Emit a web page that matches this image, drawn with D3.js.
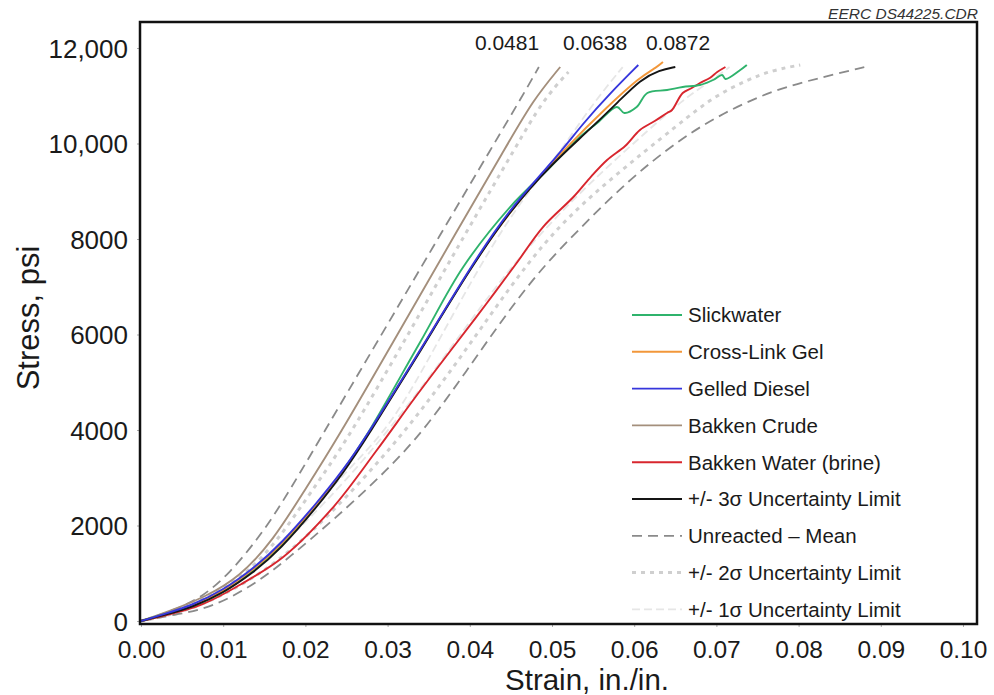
<!DOCTYPE html>
<html>
<head>
<meta charset="utf-8">
<script src="https://cdn.jsdelivr.net/npm/d3@7"></script>
<style>
  html, body { margin: 0; padding: 0; background: #fff; }
  svg { display: block; font-family: "Liberation Sans", Arial, sans-serif; }
</style>
</head>
<body>
<svg id="chart" width="994" height="695"></svg>
<script>
// ---------------- DATA ----------------
const strainTicks = [0, 0.01, 0.02, 0.03, 0.04, 0.05, 0.06, 0.07, 0.08, 0.09, 0.10];
const strainTickLabels = ["0.00","0.01","0.02","0.03","0.04","0.05","0.06","0.07","0.08","0.09","0.10"];
const stressTicks = [0, 2000, 4000, 6000, 8000, 10000, 12000];
const stressTickLabels = ["0","2000","4000","6000","8000","10,000","12,000"];

const annotationLabels = ["0.0481", "0.0638", "0.0872"];

// Slickwater
const slickwaterStrain = [0,0.0029,0.0063,0.0100,0.0136,0.0169,0.0214,0.0246,0.0273,0.0339,0.0392,0.0449,0.0498,0.0534,0.0555,0.0579,0.0588,0.0603,0.0616,0.0640,0.0659,0.0680,0.0696,0.0707,0.0711,0.0729,0.0737];
const slickwaterStress = [0,147,314,607,1047,1550,2450,3162,3853,5822,7414,8670,9508,10136,10429,10764,10639,10764,11058,11120,11183,11225,11330,11435,11351,11539,11644];
// Cross-Link Gel
const crossLinkStrain = [0,0.0029,0.0063,0.0100,0.0136,0.0169,0.0214,0.0246,0.0273,0.0343,0.0397,0.0449,0.0522,0.0567,0.0607,0.0628,0.0635];
const crossLinkStress = [0,140,315,625,1060,1560,2440,3140,3815,5750,7300,8610,10010,10764,11393,11602,11707];
// Gelled Diesel
const gelledDieselStrain = [0,0.0029,0.0063,0.0100,0.0136,0.0169,0.0214,0.0246,0.0273,0.0343,0.0397,0.0447,0.0501,0.0538,0.0571,0.0605];
const gelledDieselStress = [0,147,335,649,1089,1592,2471,3162,3832,5759,7309,8607,9613,10429,11058,11644];
// Bakken Crude
const bakkenCrudeStrain = [0,0.0035,0.0078,0.0120,0.0161,0.0197,0.0238,0.0313,0.0383,0.0444,0.0477,0.0510];
const bakkenCrudeStress = [0,209,503,921,1696,2681,3791,6031,8126,9927,10911,11602];
// Bakken Water (brine)
const bakkenWaterStrain = [0,0.0072,0.0120,0.0173,0.0234,0.0287,0.0333,0.0380,0.0419,0.0457,0.0489,0.0526,0.0546,0.0567,0.0589,0.0607,0.0625,0.0640,0.0646,0.0659,0.0670,0.0680,0.0692,0.0701,0.0711];
const bakkenWaterStress = [0,335,754,1340,2387,3581,4670,5738,6618,7497,8251,8880,9277,9654,9948,10283,10471,10639,10702,11058,11162,11267,11372,11497,11602];
// +/- 3 sigma (solid black)
const sigma3Strain = [0,0.0029,0.0063,0.0100,0.0136,0.0169,0.0214,0.0246,0.0273,0.0343,0.0397,0.0449,0.0501,0.0540,0.0583,0.0607,0.0631,0.0650];
const sigma3Stress = [0,126,293,586,1005,1487,2387,3099,3791,5738,7288,8607,9592,10199,10911,11330,11539,11602];
// Unreacted - Mean (dashed, lower and upper)
const meanLowStrain = [0,0.0041,0.0075,0.0108,0.0141,0.0169,0.0217,0.0293,0.0361,0.0430,0.0464,0.0484];
const meanLowStress = [0,230,503,1005,1696,2387,3791,6010,8000,10010,10995,11602];
const meanHighStrain = [0,0.0047,0.0088,0.0141,0.0181,0.0234,0.0291,0.0346,0.0416,0.0477,0.0532,0.0593,0.0656,0.0708,0.0769,0.0830,0.0881];
const meanHighStress = [0,147,293,796,1340,2115,3016,4000,5738,7204,8188,9236,10094,10639,11120,11393,11602];
// +/- 2 sigma (light dotted)
const sigma2LowStrain = [0,0.0038,0.0084,0.0127,0.0167,0.0206,0.0251,0.0326,0.0395,0.0456,0.0489,0.0520];
const sigma2LowStress = [0,188,503,963,1696,2681,3791,6031,8126,9927,10911,11497];
const sigma2HighStrain = [0,0.0066,0.0151,0.0225,0.0325,0.0409,0.0490,0.0569,0.0656,0.0696,0.0737,0.0769,0.0802];
const sigma2HighStress = [0,230,1005,2115,4000,6010,8000,9236,10429,10974,11330,11539,11644];
// +/- 1 sigma (very light)
const sigma1LowStrain = [0,0.0050,0.0092,0.0130,0.0168,0.0212,0.0256,0.0305,0.0360,0.0414,0.0462,0.0505,0.0548,0.0586];
const sigma1LowStress = [0,240,520,1000,1600,2400,3250,4100,5800,7500,8800,9700,10800,11600];
const sigma1HighStrain = [0,0.0070,0.0125,0.0180,0.0270,0.0360,0.0430,0.0495,0.0560,0.0612,0.0658,0.0692,0.0716];
const sigma1HighStress = [0,280,900,1700,3300,5300,7000,8300,9400,10200,10900,11300,11600];

const legendNames = ["Slickwater","Cross-Link Gel","Gelled Diesel","Bakken Crude","Bakken Water (brine)",
  "+/- 3\u03C3 Uncertainty Limit","Unreacted \u2013 Mean","+/- 2\u03C3 Uncertainty Limit","+/- 1\u03C3 Uncertainty Limit"];

// ---------------- STYLES ----------------
const styles = {
  slick:  {stroke:"#2fb36c", width:1.9, dash:null, curve:"raw"},
  cross:  {stroke:"#f2973a", width:1.9, dash:null, curve:"smooth"},
  gelled: {stroke:"#3636dc", width:1.9, dash:null, curve:"smooth"},
  crude:  {stroke:"#a48f7c", width:1.9, dash:null, curve:"smooth"},
  water:  {stroke:"#d8262e", width:1.9, dash:null, curve:"raw"},
  s3:     {stroke:"#151515", width:1.9, dash:null, curve:"smooth"},
  mean:   {stroke:"#8a8a8a", width:1.8, dash:"10,6", curve:"smooth"},
  s2:     {stroke:"#cfcfcf", width:3, dash:"4,5", curve:"smooth"},
  s1:     {stroke:"#e6e6e6", width:1.8, dash:"8,4", curve:"smooth"}
};

const series = [
  {x:sigma1LowStrain, y:sigma1LowStress, s:styles.s1},
  {x:sigma1HighStrain, y:sigma1HighStress, s:styles.s1},
  {x:sigma2LowStrain, y:sigma2LowStress, s:styles.s2},
  {x:sigma2HighStrain, y:sigma2HighStress, s:styles.s2},
  {x:meanLowStrain, y:meanLowStress, s:styles.mean},
  {x:meanHighStrain, y:meanHighStress, s:styles.mean},
  {x:bakkenCrudeStrain, y:bakkenCrudeStress, s:styles.crude},
  {x:bakkenWaterStrain, y:bakkenWaterStress, s:styles.water},
  {x:slickwaterStrain, y:slickwaterStress, s:styles.slick},
  {x:crossLinkStrain, y:crossLinkStress, s:styles.cross},
  {x:sigma3Strain, y:sigma3Stress, s:styles.s3},
  {x:gelledDieselStrain, y:gelledDieselStress, s:styles.gelled}
];
const legendStyles = [styles.slick, styles.cross, styles.gelled, styles.crude, styles.water, styles.s3, styles.mean, styles.s2, styles.s1];

// ---------------- LAYOUT ----------------
const frame = {left:140, top:22, right:977, bottom:624};
const svg = d3.select("#chart");
svg.append("rect").attr("width",994).attr("height",695).attr("fill","#fff");

const x = d3.scaleLinear().domain([0, 0.10]).range([141, 963]);
const y = d3.scaleLinear().domain([0, 12000]).range([621, 48]);

// axes
const xAxis = svg.append("g").attr("transform",`translate(0,${frame.bottom})`)
  .call(d3.axisBottom(x).tickValues(strainTicks).tickFormat((d,i)=>strainTickLabels[i]).tickSize(3));
xAxis.select(".domain").remove();
xAxis.selectAll(".tick line").attr("stroke","#aaa");
xAxis.selectAll(".tick text").attr("y",34).attr("dy",0).attr("font-size",24.5).attr("fill","#1a1a1a")
  .attr("font-family","'Liberation Sans', Arial, sans-serif");

const yAxis = svg.append("g").attr("transform",`translate(${frame.left},0)`)
  .call(d3.axisLeft(y).tickValues(stressTicks).tickFormat((d,i)=>stressTickLabels[i]).tickSize(3).tickPadding(9));
yAxis.select(".domain").remove();
yAxis.selectAll(".tick line").attr("stroke","#aaa");
yAxis.selectAll(".tick text").attr("font-size",26).attr("fill","#1a1a1a").attr("dy","0.36em")
  .attr("font-family","'Liberation Sans', Arial, sans-serif");

// axis titles
svg.append("text").attr("x",587).attr("y",690).attr("text-anchor","middle")
  .attr("font-size",29.5).attr("fill","#1a1a1a").text("Strain, in./in.");
svg.append("text").attr("transform","translate(39,318) rotate(-90)").attr("text-anchor","middle")
  .attr("font-size",31).attr("fill","#1a1a1a").text("Stress, psi");

// curves
const curveFor = {
  smooth: d3.line().x(d=>x(d[0])).y(d=>y(d[1])).curve(d3.curveBasis),
  raw: d3.line().x(d=>x(d[0])).y(d=>y(d[1])).curve(d3.curveCatmullRom.alpha(0.5))
};
const gCurves = svg.append("g");
series.forEach(sr => {
  const pts = sr.x.map((v,i)=>[v, sr.y[i]]);
  gCurves.append("path").attr("d", curveFor[sr.s.curve](pts)).attr("fill","none")
    .attr("stroke", sr.s.stroke).attr("stroke-width", sr.s.width)
    .attr("stroke-dasharray", sr.s.dash).attr("stroke-linejoin","round");
});

// annotations
const annX = [507, 595, 678];
annotationLabels.forEach((t,i)=>{
  svg.append("text").attr("x",annX[i]).attr("y",50).attr("text-anchor","middle")
    .attr("font-size",21).attr("fill","#1a1a1a").text(t);
});

// corner code
svg.append("text").attr("x",978).attr("y",19).attr("text-anchor","end")
  .attr("font-size",15.5).attr("font-style","italic").attr("fill","#333").text("EERC DS44225.CDR");

// legend
const leg = svg.append("g");
legendNames.forEach((name,i)=>{
  const cy = 315 + i*36.8;
  const st = legendStyles[i];
  leg.append("line").attr("x1",632).attr("x2",682).attr("y1",cy).attr("y2",cy)
    .attr("stroke",st.stroke).attr("stroke-width",st.width).attr("stroke-dasharray",st.dash);
  leg.append("text").attr("x",688).attr("y",cy).attr("dy","0.36em").attr("font-size",20.5)
    .attr("fill","#1a1a1a").text(name);
});

// frame
svg.append("rect").attr("x",frame.left).attr("y",frame.top)
  .attr("width",frame.right-frame.left).attr("height",frame.bottom-frame.top)
  .attr("fill","none").attr("stroke","#111").attr("stroke-width",2.5);
</script>
</body>
</html>
